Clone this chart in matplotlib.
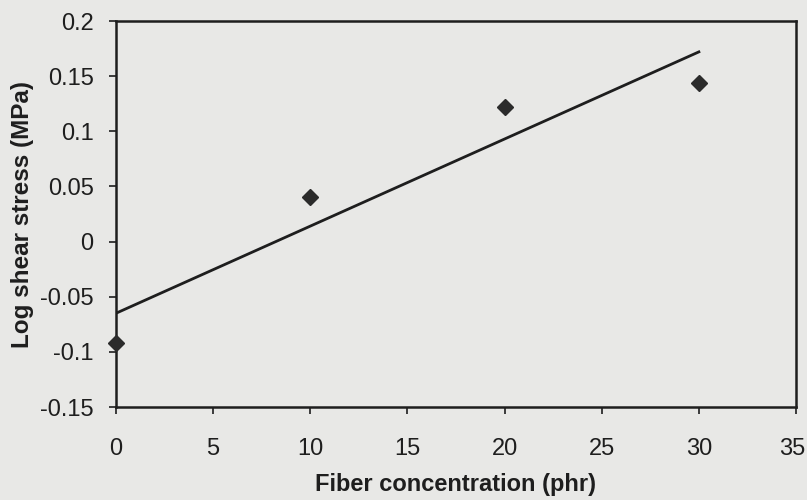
import matplotlib.pyplot as plt
import matplotlib.transforms as mtransforms
import numpy as np

plt.rcParams['font.family'] = ['Liberation Sans', 'DejaVu Sans']

# data
fiber = np.array([0, 10, 20, 30])
log_stress = np.array([-0.092, 0.040, 0.122, 0.144])
x_ticks = [0, 5, 10, 15, 20, 25, 30, 35]
y_ticks = [-0.15, -0.1, -0.05, 0, 0.05, 0.1, 0.15, 0.2]
y_labels = ['-0.15', '-0.1', '-0.05', '0', '0.05', '0.1', '0.15', '0.2']

bg = '#e8e8e6'
fig = plt.figure(figsize=(8.07, 5), dpi=100, facecolor=bg)
axe = fig.add_axes([0.1437, 0.186, 0.8427, 0.772], facecolor=bg)

# points
axe.plot(fiber, log_stress, linestyle='none', marker='D', markersize=8,
         color='#2b2b2b', clip_on=False, zorder=3)

# linear trend
k, b = np.polyfit(fiber, log_stress, 1)
xs = np.array([fiber.min(), fiber.max()])
axe.plot(xs, k * xs + b, color='#1e1e1e', linewidth=2)

axe.set_xlim(0, 35)
axe.set_ylim(-0.15, 0.2)
axe.set_xticks(x_ticks)
axe.set_yticks(y_ticks)
axe.set_yticklabels(y_labels)
axe.tick_params(direction='out', length=5, width=1.2, labelsize=17,
                colors='#1e1e1e', pad=11)
axe.tick_params(axis='x', pad=17)

# keep the last x label inside the picture
last = axe.get_xticklabels()[-1]
last.set_transform(last.get_transform() +
                   mtransforms.ScaledTranslation(-4 / 100, 0, fig.dpi_scale_trans))

for s in axe.spines.values():
    s.set_linewidth(1.8)
    s.set_color('#1e1e1e')

axe.set_xlabel('Fiber concentration (phr)', fontsize=17, fontweight='bold',
               color='#1e1e1e')
axe.set_ylabel('Log shear stress (MPa)', fontsize=17.5, fontweight='bold',
               color='#1e1e1e')
axe.xaxis.set_label_coords(0.5, -0.172)
axe.yaxis.set_label_coords(-0.12, 0.5)

fig.savefig('out.png', dpi=100, facecolor=bg)
